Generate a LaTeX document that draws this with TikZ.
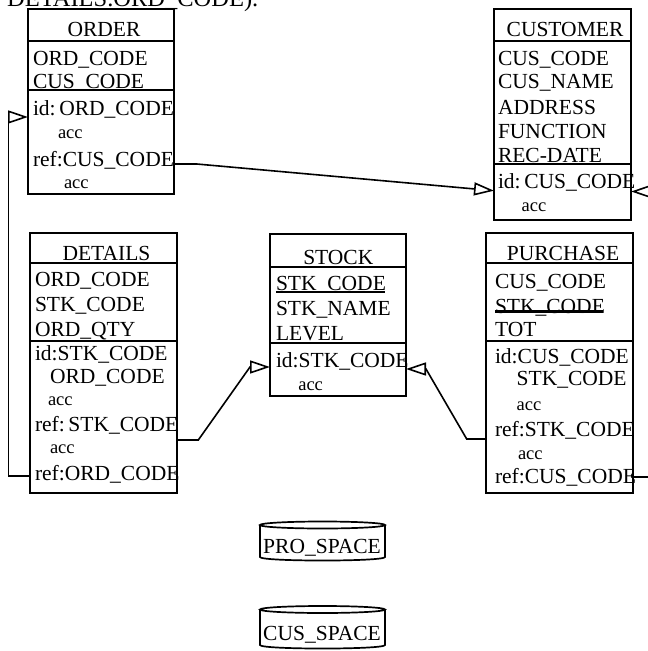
\documentclass[tikz,border=0pt]{standalone}
\usepackage{fontspec}
\setmainfont{Liberation Serif}
\usetikzlibrary{arrows.meta}
\begin{document}
\begin{tikzpicture}[x=1pt,y=-1pt,
  ent/.style={draw,line width=1.9pt,inner sep=0,outer sep=0,anchor=north west},
  sepline/.style={line width=1.7pt},
  att/.style={font=\fontsize{21.5}{24}\selectfont,anchor=base west,inner sep=0,outer sep=0},
  ttl/.style={font=\fontsize{21.5}{24}\selectfont,anchor=base,inner sep=0,outer sep=0},
  accs/.style={font=\fontsize{18.5}{20}\selectfont,anchor=base west,inner sep=0,outer sep=0},
  con/.style={line width=1.6pt},
  tip/.style={-{Triangle[open,length=20pt,width=13pt]}},
  ul/.style={line width=2.2pt},
  cyl/.style={line width=1.7pt}]
\useasboundingbox (0,0) rectangle (648,651);
\clip (0,0) rectangle (648,651);

% top text (cut off by the picture's top edge, as in the reference)
\node[font=\fontsize{24.5}{28}\selectfont,anchor=base west,inner sep=0] (toptext) at (7,6.5) {DETAILS.ORD\_CODE).};

% ORDER
\node[ent,minimum width=146pt,minimum height=185pt] (order) at (28,9) {};
\draw[sepline] (order.west |- 0,40.7) -- (order.east |- 0,40.7);
\draw[sepline] (order.west |- 0,90) -- (order.east |- 0,90);
\node[ttl] (o0) at (104,36.7) {ORDER};
\node[att] (o1) at (33,65) {ORD\_CODE};
\node[att] (o2) at (33,88.5) {CUS\_CODE};
\node[att] (o3) at (33,115) {id:\,ORD\_CODE};
\node[accs] (o4) at (58,138) {acc};
\node[att] (o5) at (33,166.5) {ref:CUS\_CODE};
\node[accs] (o6) at (64,188) {acc};

% CUSTOMER
\node[ent,minimum width=137pt,minimum height=211pt] (customer) at (494,9) {};
\draw[sepline] (customer.west |- 0,40.7) -- (customer.east |- 0,40.7);
\draw[sepline] (customer.west |- 0,164.3) -- (customer.east |- 0,164.3);
\node[ttl] (c0) at (565,36.7) {CUSTOMER};
\node[att] (c1) at (498,65) {CUS\_CODE};
\node[att] (c2) at (498,88.3) {CUS\_NAME};
\node[att] (c3) at (498,114.3) {ADDRESS};
\node[att] (c4) at (498,138.3) {FUNCTION};
\node[att] (c5) at (498,162.3) {REC-DATE};
\node[att] (c6) at (498,188.3) {id:\,CUS\_CODE};
\node[accs] (c7) at (521.7,211.7) {acc};

% DETAILS
\node[ent,minimum width=147.3pt,minimum height=259.4pt] (details) at (30,233.3) {};
\draw[sepline] (details.west |- 0,263.3) -- (details.east |- 0,263.3);
\draw[sepline] (details.west |- 0,340.7) -- (details.east |- 0,340.7);
\node[ttl] (d0) at (106.5,260) {DETAILS};
\node[att] (d1) at (35,286.7) {ORD\_CODE};
\node[att] (d2) at (35,311.7) {STK\_CODE};
\node[att] (d3) at (35,336.7) {ORD\_QTY};
\node[att] (d4) at (35,360) {id:STK\_CODE};
\node[att] (d5) at (50,383.3) {ORD\_CODE};
\node[accs] (d6) at (48,405) {acc};
\node[att] (d7) at (35,431.7) {ref:\,STK\_CODE};
\node[accs] (d8) at (50,453.3) {acc};
\node[att] (d9) at (35,480) {ref:ORD\_CODE};

% STOCK
\node[ent,minimum width=136pt,minimum height=162pt] (stock) at (270,234) {};
\draw[sepline] (stock.west |- 0,266.7) -- (stock.east |- 0,266.7);
\draw[sepline] (stock.west |- 0,342.7) -- (stock.east |- 0,342.7);
\node[ttl] (s0) at (338.3,264.5) {STOCK};
\node[att] (s1) at (276,290.7) {STK\_CODE};
\draw[ul] ([yshift=-1pt]s1.base west) -- ++(109,0);
\node[att] (s2) at (276,315.7) {STK\_NAME};
\node[att] (s3) at (276,340.7) {LEVEL};
\node[att] (s4) at (276,367.3) {id:STK\_CODE};
\node[accs] (s5) at (298.3,390.7) {acc};

% PURCHASE
\node[ent,minimum width=146.7pt,minimum height=260.6pt] (purchase) at (486,232.7) {};
\draw[sepline] (purchase.west |- 0,263.3) -- (purchase.east |- 0,263.3);
\draw[sepline] (purchase.west |- 0,340.7) -- (purchase.east |- 0,340.7);
\node[ttl] (p0) at (563,260) {PURCHASE};
\node[att] (p1) at (495,288.3) {CUS\_CODE};
\node[att] (p2) at (495,313) {STK\_CODE};
\draw[ul] ([yshift=1.5pt]p2.base west) -- ++(108,0);
\node[att] (p3) at (495,336.7) {TOT};
\node[att] (p4) at (495,363.3) {id:CUS\_CODE};
\node[att] (p5) at (516.7,385.7) {STK\_CODE};
\node[accs] (p6) at (516.7,410.7) {acc};
\node[att] (p7) at (495,436.7) {ref:STK\_CODE};
\node[accs] (p8) at (518,459.3) {acc};
\node[att] (p9) at (495,483.3) {ref:CUS\_CODE};

% connectors
\draw[con,tip] (order.east |- 0,164) -- (196.7,164) -- (customer.west |- 0,190.7);
\draw[con,tip] (details.west |- 0,476) -- (8.5,476) -- (8.5,117) -- (order.west |- 0,117);
\draw[con,tip] (details.east |- 0,440) -- (198.3,440) -- (250,367) -- (stock.west |- 0,367);
\draw[con,tip] (purchase.west |- 0,439) -- (466.7,439) -- (426,369) -- (stock.east |- 0,369);
\draw[con,tip] (purchase.east |- 0,476.7) -- (665,476.7) -- (665,191.5) -- (customer.east |- 0,191.5);

% spaces
\draw[cyl] (322.5,525) ellipse [x radius=62.5, y radius=3.5];
\draw[cyl] (260,525) -- (260,557) .. controls (260,561.7) and (385,561.7) .. (385,557) -- (385,525);
\node[ttl] (pro) at (322,553.3) {PRO\_SPACE};
\draw[cyl] (322.5,609.5) ellipse [x radius=62.5, y radius=3.5];
\draw[cyl] (260,609.5) -- (260,645) .. controls (260,649.7) and (385,649.7) .. (385,645) -- (385,609.5);
\node[ttl] (cus) at (322,640.7) {CUS\_SPACE};
\end{tikzpicture}
\end{document}
